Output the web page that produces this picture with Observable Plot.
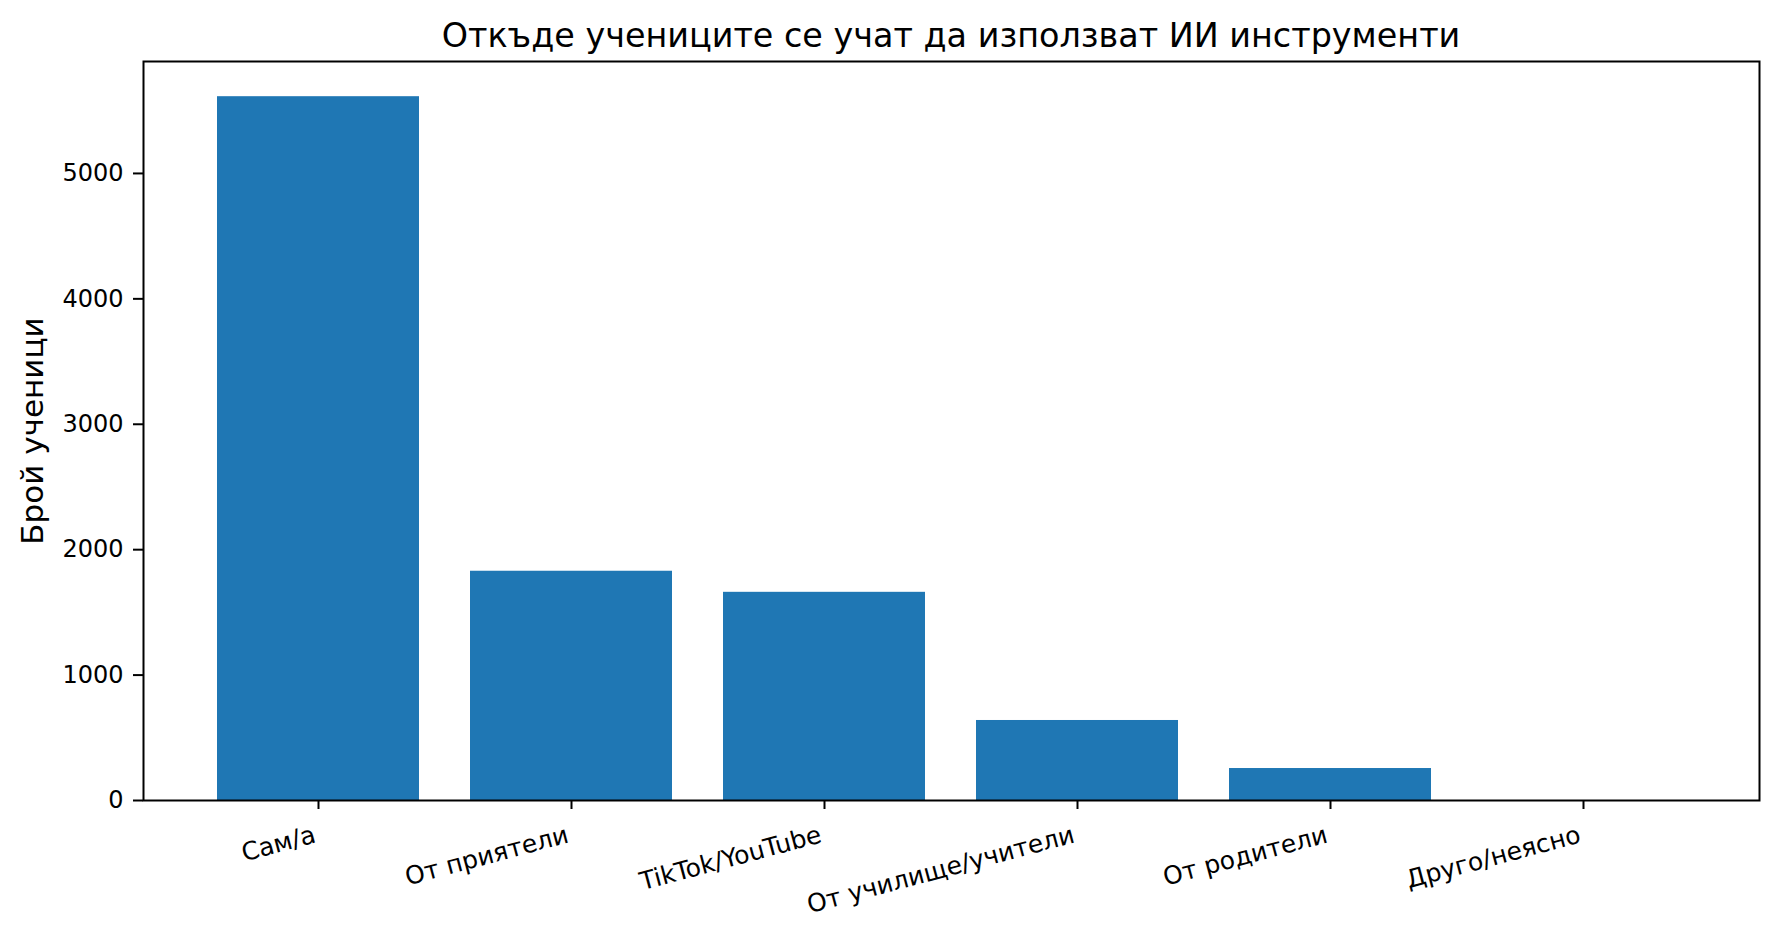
<!DOCTYPE html>
<html>
<head>
<meta charset="utf-8">
<script src="https://cdn.jsdelivr.net/npm/d3@7"></script>
<script src="https://cdn.jsdelivr.net/npm/@observablehq/plot@0.6"></script>
<style>
  html, body { margin: 0; padding: 0; background: #fff; }
  #wrap { position: relative; width: 1778px; height: 935px; font-family: "DejaVu Sans", sans-serif; }
  #title { position: absolute; left: 143px; width: 1616px; top: 19px; text-align: center;
           font-size: 33.4px; line-height: 33.4px; color: #000; white-space: nowrap; }
  #chart { position: absolute; left: 0; top: 55px; }
</style>
</head>
<body>
<div id="wrap">
  <div id="title">Откъде учениците се учат да използват ИИ инструменти</div>
  <div id="chart"></div>
</div>
<script>
const categories = ["Сам/а", "От приятели", "TikTok/YouTube", "От училище/учители", "От родители", "Друго/неясно"];
const counts = [5612, 1828, 1660, 638, 255, 0];
const yTicks = [0, 1000, 2000, 3000, 4000, 5000];
const yLabel = "Брой ученици";

const data = categories.map((c, i) => ({category: c, count: counts[i]}));
const yMax = d3.max(counts) * 1.05;
const theta = 15 * Math.PI / 180;
const fsY = 24;
const fs = 25;
const asc = 0.93 * fs, desc = 0.24 * fs;

const plot = Plot.plot({
  width: 1778,
  height: 880,
  marginTop: 6,
  marginBottom: 135,
  marginLeft: 143,
  marginRight: 19,
  style: {fontFamily: "DejaVu Sans, sans-serif", fontSize: fsY + "px", color: "#000", background: "#fff"},
  x: {domain: categories, type: "band", paddingInner: 0.2, paddingOuter: 0.29, align: 0.5, label: null},
  y: {domain: [0, yMax], label: null},
  marks: [
    Plot.barY(data, {x: "category", y: "count", fill: "#1f77b4", inset: 0}),
    Plot.axisY({ticks: yTicks, tickSize: 10, tickPadding: 10, strokeWidth: 2, label: null, fontSize: fsY, tickFormat: d => String(d)}),
    Plot.axisX({tickSize: 9, strokeWidth: 2, tickFormat: () => "", label: null}),
    Plot.text(data, {
      x: "category", text: "category", frameAnchor: "bottom",
      rotate: -15, textAnchor: "end", lineAnchor: "bottom",
      dx: -desc * Math.sin(theta), dy: 19 + asc * Math.cos(theta),
      fontSize: fs, fill: "#000"
    }),
    Plot.text([yLabel], {
      text: d => d, frameAnchor: "left", rotate: -90, dx: -110,
      textAnchor: "middle", lineAnchor: "middle", fontSize: 31, fill: "#000"
    }),
    Plot.frame({stroke: "#000", strokeWidth: 2})
  ]
});
document.getElementById("chart").appendChild(plot);
</script>
</body>
</html>
